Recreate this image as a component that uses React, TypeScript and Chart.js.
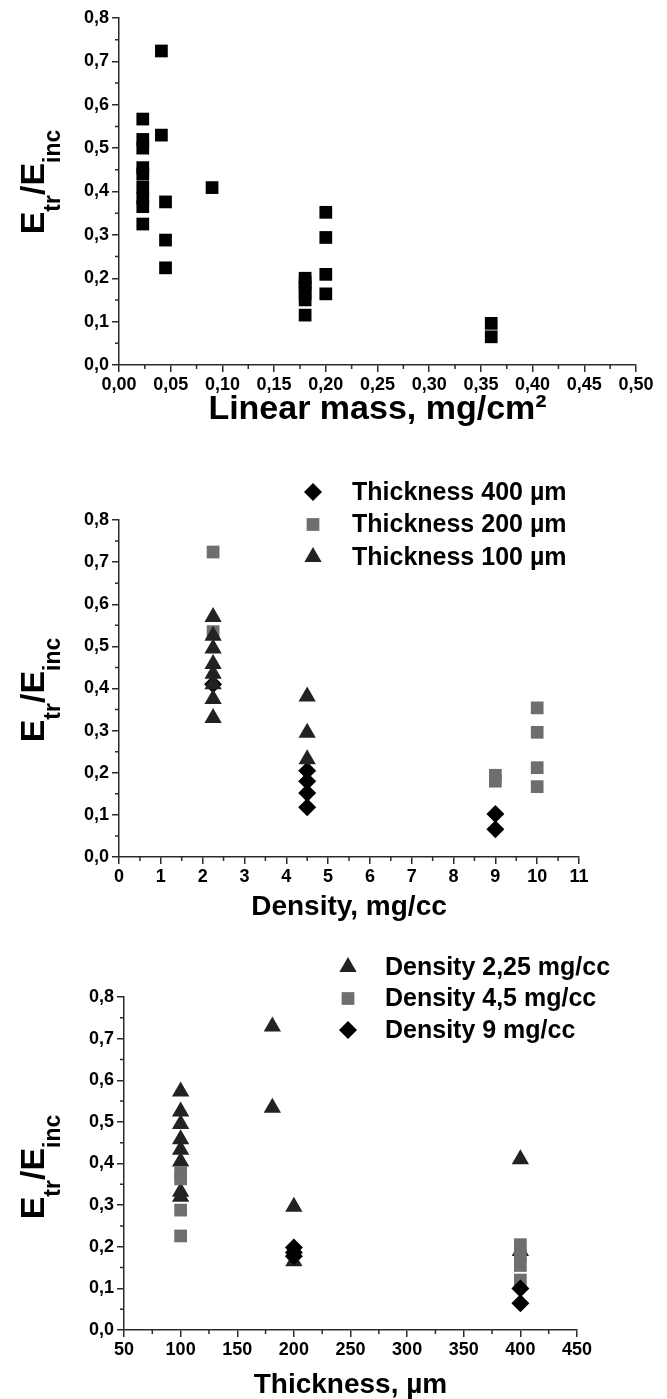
import React, { useEffect, useRef } from 'react';
import { Chart, registerables } from 'chart.js';

Chart.register(...registerables);

const FONT = '"Liberation Sans", Arial, Helvetica, sans-serif';
const AXIS_COLOR = '#2b2b2b';
const TRI_COLOR = '#222222';
const GRAY_COLOR = '#6e6e6e';
const BLACK = '#000000';

// ---------- Chart 1: ratio vs linear mass ----------
const linearMassValues = [0.023, 0.041, 0.045, 0.09, 0.18, 0.2, 0.36];
const linearMassRatios = [
  [0.567, 0.52, 0.5, 0.455, 0.44, 0.41, 0.385, 0.365, 0.325],
  [0.724, 0.53],
  [0.376, 0.288, 0.224],
  [0.409],
  [0.2, 0.19, 0.18, 0.165, 0.15, 0.115],
  [0.352, 0.294, 0.209, 0.164],
  [0.096, 0.065],
];
const linearMassTicks = { min: 0, max: 0.5, step: 0.05 };

// ---------- Chart 2: ratio vs density ----------
const thick400Density = [2.25, 4.5, 9];
const thick400Ratios = [[0.41], [0.205, 0.18, 0.152, 0.118], [0.102, 0.066]];
const thick200Density = [2.25, 9, 10];
const thick200Ratios = [[0.724, 0.535], [0.194, 0.18], [0.354, 0.296, 0.212, 0.167]];
const thick100Density = [2.25, 4.5];
const thick100Ratios = [
  [0.57, 0.525, 0.495, 0.458, 0.435, 0.41, 0.375, 0.33],
  [0.381, 0.295, 0.232],
];
const densityTicks = { min: 0, max: 11, step: 1 };

// ---------- Chart 3: ratio vs thickness ----------
const dens225Thickness = [100, 181, 200, 400];
const dens225Ratios = [
  [0.573, 0.525, 0.495, 0.458, 0.433, 0.405, 0.332, 0.32],
  [0.729, 0.534],
  [0.296, 0.165],
  [0.41, 0.19],
];
const dens45Thickness = [100, 400];
const dens45Ratios = [[0.378, 0.363, 0.288, 0.226], [0.205, 0.18, 0.155, 0.12]];
const dens9Thickness = [200, 400];
const dens9Ratios = [[0.198, 0.186, 0.177], [0.1, 0.064]];
const thicknessTicks = { min: 50, max: 450, step: 50 };

const ratioTicks = { min: 0, max: 0.8, step: 0.1 };

function toPoints(xs: number[], groups: number[][]) {
  const pts: { x: number; y: number }[] = [];
  xs.forEach((x, i) => groups[i].forEach((y) => pts.push({ x, y })));
  return pts;
}

function drawMarker(ctx: CanvasRenderingContext2D, style: string, x: number, y: number, r: number) {
  ctx.beginPath();
  if (style === 'rect') {
    const s = r * Math.SQRT1_2;
    ctx.rect(x - s, y - s, 2 * s, 2 * s);
  } else if (style === 'rectRot') {
    ctx.moveTo(x - r, y);
    ctx.lineTo(x, y - r);
    ctx.lineTo(x + r, y);
    ctx.lineTo(x, y + r);
    ctx.closePath();
  } else {
    ctx.moveTo(x, y - r);
    ctx.lineTo(x + r * Math.sin((2 * Math.PI) / 3), y - r * Math.cos((2 * Math.PI) / 3));
    ctx.lineTo(x + r * Math.sin((4 * Math.PI) / 3), y - r * Math.cos((4 * Math.PI) / 3));
    ctx.closePath();
  }
  ctx.fill();
}

const decorPlugin = {
  id: 'decor',
  afterDraw(chart: any, _args: any, opts: any) {
    const ctx: CanvasRenderingContext2D = chart.ctx;
    const xs = chart.scales.x;
    const ys = chart.scales.y;
    ctx.save();
    // minor ticks
    ctx.strokeStyle = AXIS_COLOR;
    ctx.lineWidth = 1.5;
    ctx.beginPath();
    const xStep = opts.xStep;
    for (let v = xs.min + xStep / 2; v < xs.max; v += xStep) {
      const px = xs.getPixelForValue(v);
      ctx.moveTo(px, xs.top);
      ctx.lineTo(px, xs.top + 4);
    }
    const yStep = opts.yStep;
    for (let v = ys.min + yStep / 2; v < ys.max; v += yStep) {
      const py = ys.getPixelForValue(v);
      ctx.moveTo(ys.right, py);
      ctx.lineTo(ys.right - 4, py);
    }
    ctx.stroke();

    // y-axis title with subscripts
    const parts = [
      { t: 'E', sub: false },
      { t: 'tr', sub: true },
      { t: '/', sub: false },
      { t: 'E', sub: false },
      { t: 'inc', sub: true },
    ];
    const mainFont = `bold 34px ${FONT}`;
    const subFont = `bold 23px ${FONT}`;
    let total = 0;
    const widths = parts.map((p) => {
      ctx.font = p.sub ? subFont : mainFont;
      const w = ctx.measureText(p.t).width;
      total += w;
      return w;
    });
    ctx.translate(opts.yTitleX, opts.yTitleY);
    ctx.rotate(-Math.PI / 2);
    ctx.fillStyle = '#000';
    ctx.textBaseline = 'alphabetic';
    ctx.textAlign = 'left';
    let cur = -total / 2;
    parts.forEach((p, i) => {
      ctx.font = p.sub ? subFont : mainFont;
      ctx.fillText(p.t, cur, p.sub ? 16 : 0);
      cur += widths[i];
    });
    ctx.setTransform(1, 0, 0, 1, 0, 0);

    // legend
    if (opts.legend) {
      const L = opts.legend;
      ctx.font = `bold 25px ${FONT}`;
      ctx.textBaseline = 'middle';
      chart.data.datasets.forEach((ds: any, i: number) => {
        const y = L.y0 + i * L.dy;
        ctx.fillStyle = ds.backgroundColor;
        drawMarker(ctx, ds.pointStyle, L.markerX, y, ds.pointRadius);
        ctx.fillStyle = '#000';
        ctx.fillText(ds.label, L.textX, y + 1);
      });
    }
    ctx.restore();
  },
};

function comma(v: number, digits: number) {
  return Number(v).toFixed(digits).replace('.', ',');
}

function buildConfig(cfg: any) {
  const tickFont = { family: FONT, size: 18, weight: 'bold' as const };
  return {
    type: 'scatter' as const,
    data: { datasets: cfg.datasets },
    plugins: [decorPlugin],
    options: {
      responsive: false,
      animation: false as const,
      layout: { padding: cfg.padding },
      plugins: {
        legend: { display: false },
        tooltip: { enabled: false },
        decor: {
          xStep: cfg.xTicks.step,
          yStep: ratioTicks.step,
          yTitleX: cfg.yTitleX,
          yTitleY: cfg.yTitleY,
          legend: cfg.legend,
        },
      },
      scales: {
        x: {
          type: 'linear',
          min: cfg.xTicks.min,
          max: cfg.xTicks.max,
          afterFit: (s: any) => {
            s.height = cfg.xHeight;
          },
          ticks: {
            stepSize: cfg.xTicks.step,
            autoSkip: false,
            maxRotation: 0,
            padding: 2,
            color: '#000',
            font: tickFont,
            callback: (v: any) => comma(v, cfg.xDigits),
          },
          grid: { drawOnChartArea: false, drawTicks: true, tickLength: 7, color: AXIS_COLOR, lineWidth: 1.5 },
          border: { display: true, color: AXIS_COLOR, width: 1.5 },
          title: {
            display: true,
            text: cfg.xTitle,
            color: '#000',
            font: { family: FONT, size: cfg.xTitleSize, weight: 'bold', lineHeight: 1 },
            padding: 0,
          },
        },
        y: {
          type: 'linear',
          min: ratioTicks.min,
          max: ratioTicks.max,
          afterFit: (s: any) => {
            s.width = cfg.yWidth;
          },
          ticks: {
            stepSize: ratioTicks.step,
            padding: 3,
            color: '#000',
            font: tickFont,
            callback: (v: any) => comma(v, 1),
          },
          grid: { drawOnChartArea: false, drawTicks: true, tickLength: 7, color: AXIS_COLOR, lineWidth: 1.5 },
          border: { display: true, color: AXIS_COLOR, width: 1.5 },
        },
      },
    },
  };
}

function ds(label: string, data: any[], style: string, color: string, radius: number, order: number) {
  return {
    label,
    data,
    pointStyle: style,
    backgroundColor: color,
    borderColor: color,
    borderWidth: 0,
    pointRadius: radius,
    pointHoverRadius: radius,
    order,
  };
}

export default function App() {
  const r1 = useRef<HTMLCanvasElement>(null);
  const r2 = useRef<HTMLCanvasElement>(null);
  const r3 = useRef<HTMLCanvasElement>(null);

  useEffect(() => {
    const c1 = new Chart(
      r1.current as HTMLCanvasElement,
      buildConfig({
        datasets: [ds('Linear mass', toPoints(linearMassValues, linearMassRatios), 'rect', BLACK, 9, 0)],
        padding: { top: 18, left: 0, right: 31, bottom: 13 },
        xTicks: linearMassTicks,
        xDigits: 2,
        xHeight: 62,
        yWidth: 119,
        xTitle: 'Linear mass, mg/cm\u00B2',
        xTitleSize: 34,
        yTitleX: 44,
        yTitleY: 182,
        legend: null,
      }) as any
    );
    const c2 = new Chart(
      r2.current as HTMLCanvasElement,
      buildConfig({
        datasets: [
          ds('Thickness 400 \u00B5m', toPoints(thick400Density, thick400Ratios), 'rectRot', BLACK, 9, 2),
          ds('Thickness 200 \u00B5m', toPoints(thick200Density, thick200Ratios), 'rect', GRAY_COLOR, 9, 1),
          ds('Thickness 100 \u00B5m', toPoints(thick100Density, thick100Ratios), 'triangle', TRI_COLOR, 10, 0),
        ],
        padding: { top: 80, left: 0, right: 88, bottom: 14 },
        xTicks: densityTicks,
        xDigits: 0,
        xHeight: 64,
        yWidth: 119,
        xTitle: 'Density, mg/cc',
        xTitleSize: 28,
        yTitleX: 44,
        yTitleY: 250,
        legend: { markerX: 313, textX: 352, y0: 52, dy: 32.5 },
      }) as any
    );
    const c3 = new Chart(
      r3.current as HTMLCanvasElement,
      buildConfig({
        datasets: [
          ds('Density 2,25 mg/cc', toPoints(dens225Thickness, dens225Ratios), 'triangle', TRI_COLOR, 10, 2),
          ds('Density 4,5 mg/cc', toPoints(dens45Thickness, dens45Ratios), 'rect', GRAY_COLOR, 9, 1),
          ds('Density 9 mg/cc', toPoints(dens9Thickness, dens9Ratios), 'rectRot', BLACK, 9, 0),
        ],
        padding: { top: 62, left: 0, right: 90, bottom: 0 },
        xTicks: thicknessTicks,
        xDigits: 0,
        xHeight: 69,
        yWidth: 124,
        xTitle: 'Thickness, \u00B5m',
        xTitleSize: 28,
        yTitleX: 44,
        yTitleY: 232,
        legend: { markerX: 348, textX: 385, y0: 32, dy: 31.5 },
      }) as any
    );
    return () => {
      c1.destroy();
      c2.destroy();
      c3.destroy();
    };
  }, []);

  return (
    <div style={{ position: 'absolute', left: 0, top: 0, width: 667, height: 1399, background: '#fff' }}>
      <canvas ref={r1} width={667} height={440} style={{ position: 'absolute', left: 0, top: 0 }} />
      <canvas ref={r2} width={667} height={495} style={{ position: 'absolute', left: 0, top: 440 }} />
      <canvas ref={r3} width={667} height={464} style={{ position: 'absolute', left: 0, top: 935 }} />
    </div>
  );
}
